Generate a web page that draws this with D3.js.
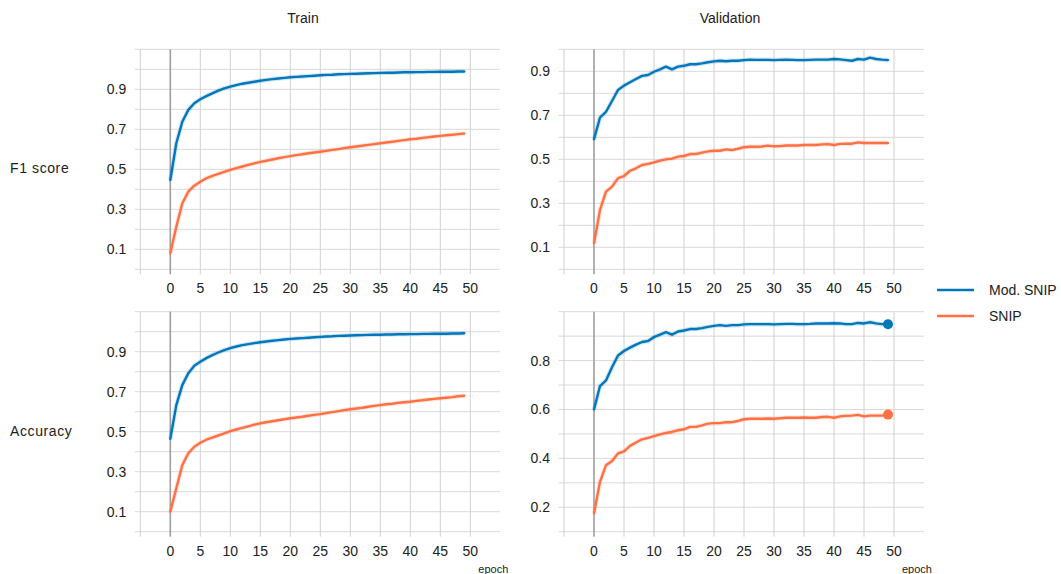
<!DOCTYPE html>
<html>
<head>
<meta charset="utf-8">
<script src="https://cdn.jsdelivr.net/npm/d3@7"></script>
<style>
  body { margin: 0; background: #fff; }
  text { font-family: "Liberation Sans", Arial, sans-serif; fill: #212121; }
</style>
</head>
<body>
<div id="chart"></div>
<script>
// epochs 0..49
const epochs = d3.range(0, 50);

// F1 score - train
const f1TrainMod = [0.446,0.63,0.738,0.797,0.83,0.85,0.866,0.88,0.893,0.905,
  0.913,0.921,0.928,0.933,0.938,0.943,0.947,0.951,0.954,0.957,
  0.960,0.962,0.964,0.966,0.968,0.970,0.972,0.973,0.975,0.976,
  0.977,0.978,0.979,0.980,0.981,0.982,0.983,0.983,0.984,0.985,
  0.985,0.986,0.986,0.987,0.987,0.988,0.988,0.988,0.989,0.989];
const f1TrainSnip = [0.08,0.213,0.33,0.388,0.418,0.438,0.455,0.467,0.477,0.487,
  0.497,0.506,0.514,0.522,0.530,0.537,0.543,0.549,0.555,0.561,
  0.566,0.571,0.575,0.580,0.584,0.588,0.592,0.597,0.601,0.606,
  0.610,0.614,0.618,0.622,0.626,0.630,0.634,0.638,0.642,0.646,
  0.650,0.653,0.657,0.660,0.664,0.667,0.670,0.673,0.676,0.679];

// F1 score - validation
const f1ValMod = [0.591,0.69,0.716,0.765,0.815,0.835,0.85,0.865,0.879,0.883,
  0.898,0.909,0.921,0.909,0.921,0.925,0.932,0.932,0.936,0.941,
  0.945,0.948,0.946,0.948,0.948,0.951,0.953,0.952,0.952,0.952,
  0.951,0.952,0.953,0.952,0.951,0.951,0.952,0.953,0.953,0.953,
  0.956,0.954,0.951,0.948,0.956,0.953,0.962,0.956,0.953,0.951];
const f1ValSnip = [0.118,0.27,0.353,0.376,0.414,0.424,0.448,0.459,0.474,0.479,
  0.486,0.494,0.5,0.503,0.512,0.515,0.524,0.524,0.53,0.536,
  0.539,0.539,0.545,0.542,0.548,0.555,0.557,0.557,0.558,0.562,
  0.559,0.560,0.563,0.563,0.563,0.565,0.565,0.565,0.568,0.569,
  0.565,0.57,0.571,0.571,0.577,0.574,0.574,0.574,0.574,0.574];

// Accuracy - train
const accTrainMod = [0.464,0.633,0.733,0.792,0.83,0.85,0.868,0.883,0.896,0.908,
  0.918,0.926,0.933,0.938,0.943,0.947,0.951,0.955,0.958,0.961,
  0.964,0.966,0.968,0.970,0.972,0.974,0.976,0.977,0.979,0.980,
  0.981,0.982,0.983,0.984,0.985,0.985,0.986,0.986,0.987,0.987,
  0.988,0.988,0.989,0.989,0.990,0.990,0.990,0.991,0.991,0.992];
const accTrainSnip = [0.1,0.217,0.333,0.392,0.425,0.445,0.46,0.47,0.481,0.492,
  0.503,0.511,0.519,0.527,0.535,0.542,0.547,0.552,0.557,0.562,
  0.567,0.571,0.575,0.580,0.584,0.588,0.593,0.598,0.603,0.608,
  0.612,0.616,0.620,0.625,0.629,0.633,0.637,0.640,0.644,0.647,
  0.650,0.654,0.657,0.661,0.664,0.667,0.670,0.673,0.677,0.680];

// Accuracy - validation
const accValMod = [0.6,0.696,0.719,0.773,0.821,0.839,0.853,0.865,0.876,0.88,
  0.896,0.906,0.916,0.906,0.919,0.923,0.929,0.929,0.933,0.938,
  0.942,0.945,0.942,0.945,0.945,0.948,0.949,0.949,0.949,0.949,
  0.948,0.949,0.950,0.950,0.949,0.949,0.950,0.952,0.952,0.952,
  0.953,0.952,0.949,0.949,0.954,0.952,0.957,0.952,0.949,0.949];
const accValSnip = [0.175,0.304,0.372,0.389,0.42,0.429,0.451,0.465,0.478,0.484,
  0.491,0.498,0.504,0.508,0.515,0.519,0.529,0.529,0.535,0.542,
  0.544,0.544,0.548,0.548,0.553,0.56,0.562,0.562,0.562,0.563,
  0.562,0.564,0.566,0.566,0.566,0.567,0.566,0.566,0.569,0.570,
  0.566,0.572,0.574,0.575,0.578,0.572,0.575,0.575,0.575,0.579];

const seriesNames = ["Mod. SNIP", "SNIP"];
const seriesColors = ["#0077bb", "#ff7043"];
const colTitles = ["Train", "Validation"];
const rowTitles = ["F1 score", "Accuracy"];
const xTicks = [0,5,10,15,20,25,30,35,40,45,50];
const xGrid = [-5,0,5,10,15,20,25,30,35,40,45,50];

const panels = [
  {row:0, col:0, data:[f1TrainMod, f1TrainSnip], yDom:[0,1.1], grid:d3.range(0,12).map(d=>d/10), labels:[0.1,0.3,0.5,0.7,0.9], last:false},
  {row:0, col:1, data:[f1ValMod, f1ValSnip], yDom:[0,1.0], grid:d3.range(0,11).map(d=>d/10), labels:[0.1,0.3,0.5,0.7,0.9], last:false},
  {row:1, col:0, data:[accTrainMod, accTrainSnip], yDom:[0,1.1], grid:d3.range(0,12).map(d=>d/10), labels:[0.1,0.3,0.5,0.7,0.9], last:false},
  {row:1, col:1, data:[accValMod, accValSnip], yDom:[0.1,1.0], grid:d3.range(1,11).map(d=>d/10), labels:[0.2,0.4,0.6,0.8], last:true}
];
const fmt = d3.format(".1f");

const W = 1061, H = 574;
const colX = [[140.3, 500.3], [564, 924]];
const rowY = [[269.3, 49.3], [531.7, 311.7]];

const svg = d3.select("#chart").append("svg")
  .attr("width", W).attr("height", H);

panels.forEach(p => {
  const x = d3.scaleLinear().domain([-5, 55]).range(colX[p.col]);
  const y = d3.scaleLinear().domain(p.yDom).range(rowY[p.row]);
  const g = svg.append("g");
  const [x0, x1] = colX[p.col];
  const [yb, yt] = rowY[p.row];

  // horizontal grid + left ticks
  g.selectAll(".hg").data(p.grid).enter().append("line")
    .attr("x1", x0 - 5.5).attr("x2", x1)
    .attr("y1", d => y(d)).attr("y2", d => y(d))
    .attr("stroke", "#d9d9d9").attr("stroke-width", 1);

  // vertical grid (extends a little below)
  g.selectAll(".vg").data(xGrid).enter().append("line")
    .attr("x1", d => x(d)).attr("x2", d => x(d))
    .attr("y1", yt).attr("y2", yb + 5)
    .attr("stroke", d => d === 0 ? "#9e9e9e" : "#d0d0d0")
    .attr("stroke-width", d => d === 0 ? 1.6 : 1);

  // y labels
  g.selectAll(".yl").data(p.labels).enter().append("text")
    .attr("x", x0 - 14).attr("y", d => y(d))
    .attr("text-anchor", "end").attr("dominant-baseline", "central")
    .attr("font-size", 14).text(d => fmt(d));

  // x labels
  g.selectAll(".xl").data(xTicks).enter().append("text")
    .attr("x", d => x(d)).attr("y", yb + 19)
    .attr("text-anchor", "middle").attr("dominant-baseline", "central")
    .attr("font-size", 14).text(d => d);

  if (p.row === 1) {
    g.append("text").attr("x", x(50) + 8).attr("y", yb + 37)
      .attr("font-size", 11).attr("dominant-baseline", "central").text("epoch");
  }

  const line = d3.line().x((d, i) => x(epochs[i])).y(d => y(d));
  p.data.forEach((vals, si) => {
    g.append("path").datum(vals)
      .attr("d", line).attr("fill", "none")
      .attr("stroke", seriesColors[si]).attr("stroke-opacity", 0.18)
      .attr("stroke-width", 4.5).attr("stroke-linejoin", "round");
    g.append("path").datum(vals)
      .attr("d", line).attr("fill", "none")
      .attr("stroke", seriesColors[si]).attr("stroke-width", 2.4)
      .attr("stroke-linejoin", "round").attr("stroke-linecap", "round");
    if (p.last) {
      g.append("circle")
        .attr("cx", x(epochs[vals.length - 1])).attr("cy", y(vals[vals.length - 1]))
        .attr("r", 5).attr("fill", seriesColors[si]);
    }
  });
});

// column titles
svg.selectAll(".ct").data(colTitles).enter().append("text")
  .attr("x", (d, i) => [303, 730][i]).attr("y", 18)
  .attr("text-anchor", "middle").attr("dominant-baseline", "central")
  .attr("font-size", 14).text(d => d);

// row titles
svg.selectAll(".rt").data(rowTitles).enter().append("text")
  .attr("x", 10).attr("y", (d, i) => [168, 431][i])
  .attr("dominant-baseline", "central").attr("letter-spacing", 0.6)
  .attr("font-size", 14).text(d => d);

// legend
const leg = svg.append("g");
seriesNames.forEach((n, i) => {
  const ly = 290 + i * 26;
  leg.append("line").attr("x1", 937).attr("x2", 974).attr("y1", ly).attr("y2", ly)
    .attr("stroke", seriesColors[i]).attr("stroke-width", 2.6);
  leg.append("text").attr("x", 989).attr("y", ly)
    .attr("dominant-baseline", "central").attr("font-size", 14).text(n);
});
</script>
</body>
</html>
